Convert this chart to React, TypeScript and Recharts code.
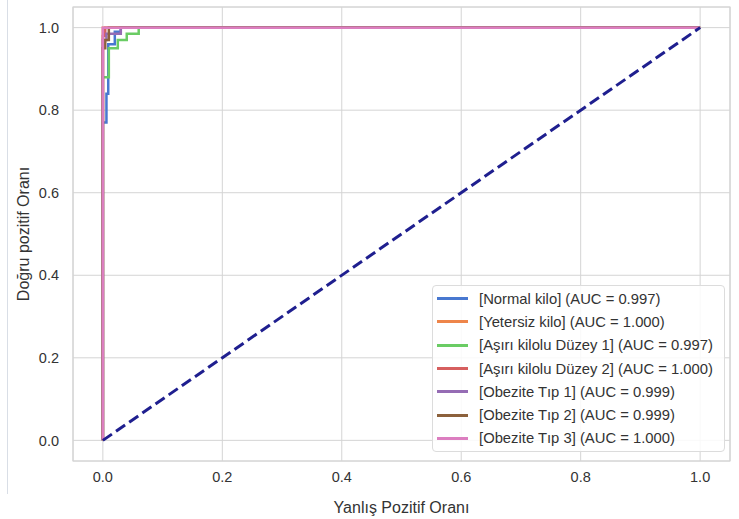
import React from "react";
import {
    LineChart,
    Line,
    XAxis,
    YAxis,
    CartesianGrid,
    ReferenceArea,
} from "recharts";

// Eksen işaretleri
const axisTicks = [0, 0.2, 0.4, 0.6, 0.8, 1.0];

// Sınıf adları, AUC değerleri ve renkler
const classNames = [
    "Normal kilo",
    "Yetersiz kilo",
    "Aşırı kilolu Düzey 1",
    "Aşırı kilolu Düzey 2",
    "Obezite Tıp 1",
    "Obezite Tıp 2",
    "Obezite Tıp 3",
];
const aucValues = [0.997, 1.0, 0.997, 1.0, 0.999, 0.999, 1.0];
const classColors = ["#4878d0", "#ee854a", "#6acc64", "#d65f5f", "#956cb4", "#8c613c", "#dc7ec0"];

// ROC eğrileri (FPR, TPR)
const fprNormal = [0, 0, 0.006, 0.006, 0.009, 0.009, 0.02, 0.02, 0.03, 0.03, 1];
const tprNormal = [0, 0.77, 0.77, 0.84, 0.84, 0.96, 0.96, 0.99, 0.99, 1, 1];
const fprYetersiz = [0, 0, 1];
const tprYetersiz = [0, 1, 1];
const fprDuzey1 = [0, 0, 0.01, 0.01, 0.025, 0.025, 0.04, 0.04, 0.06, 0.06, 1];
const tprDuzey1 = [0, 0.88, 0.88, 0.95, 0.95, 0.97, 0.97, 0.985, 0.985, 1, 1];
const fprDuzey2 = [0, 0, 0.004, 0.004, 1];
const tprDuzey2 = [0, 0.98, 0.98, 1, 1];
const fprTip1 = [0, 0, 0.006, 0.006, 0.03, 0.03, 1];
const tprTip1 = [0, 0.97, 0.97, 0.985, 0.985, 1, 1];
const fprTip2 = [0, 0, 0.004, 0.004, 0.01, 0.01, 1];
const tprTip2 = [0, 0.95, 0.95, 0.97, 0.97, 1, 1];
const fprTip3 = [0, 0, 1];
const tprTip3 = [0, 1, 1];

const fprAll = [fprNormal, fprYetersiz, fprDuzey1, fprDuzey2, fprTip1, fprTip2, fprTip3];
const tprAll = [tprNormal, tprYetersiz, tprDuzey1, tprDuzey2, tprTip1, tprTip2, tprTip3];

// Şans çizgisi
const chanceFpr = [0, 1];
const chanceTpr = [0, 1];

const font = "'Liberation Sans', Arial, sans-serif";
const textColor = "#333333";
const gridColor = "#d4d4d4";

export default function App() {
    const curves = classNames.map((name, i) => ({
        name,
        auc: aucValues[i],
        color: classColors[i],
        data: fprAll[i].map((fpr, j) => ({ fpr, tpr: tprAll[i][j] })),
    }));
    const chanceData = chanceFpr.map((fpr, j) => ({ fpr, tpr: chanceTpr[j] }));

    return (
        <div style={{ position: "absolute", left: 0, top: 0, width: 739, height: 519, background: "#fff", fontFamily: font }}>
            <div style={{ position: "absolute", left: 7, top: 0, width: 1, height: 494, background: "#d9dee6" }} />
            <LineChart
                width={739}
                height={519}
                margin={{ top: 7, right: 9, bottom: 0, left: 0 }}
            >
                <CartesianGrid stroke={gridColor} strokeWidth={1} />
                <XAxis
                    type="number"
                    dataKey="fpr"
                    domain={[-0.05, 1.05]}
                    ticks={axisTicks}
                    allowDataOverflow
                    tickFormatter={(v: number) => v.toFixed(1)}
                    axisLine={false}
                    tickLine={false}
                    tickMargin={5}
                    height={58}
                    tick={{ fontSize: 14.5, fill: textColor, fontFamily: font }}
                    label={{
                        value: "Yanlış Pozitif Oranı",
                        position: "insideBottom",
                        offset: 6,
                        style: { fontSize: 16, fill: textColor, fontFamily: font },
                    }}
                />
                <YAxis
                    type="number"
                    dataKey="tpr"
                    domain={[-0.05, 1.05]}
                    ticks={axisTicks}
                    allowDataOverflow
                    tickFormatter={(v: number) => v.toFixed(1)}
                    axisLine={false}
                    tickLine={false}
                    tickMargin={8}
                    width={73}
                    tick={{ fontSize: 14.5, fill: textColor, fontFamily: font }}
                    label={{
                        value: "Doğru pozitif Oranı",
                        angle: -90,
                        position: "insideLeft",
                        offset: 23,
                        style: { fontSize: 16, fill: textColor, fontFamily: font, textAnchor: "middle" },
                    }}
                />
                <ReferenceArea x1={-0.05} x2={1.05} y1={-0.05} y2={1.05} fill="none" stroke={gridColor} strokeWidth={1.2} />
                {curves.map((c) => (
                    <Line
                        key={c.name}
                        data={c.data}
                        dataKey="tpr"
                        type="linear"
                        stroke={c.color}
                        strokeWidth={2.5}
                        dot={false}
                        isAnimationActive={false}
                    />
                ))}
                <Line
                    data={chanceData}
                    dataKey="tpr"
                    type="linear"
                    stroke="#1f1f8f"
                    strokeWidth={3}
                    strokeDasharray="11 5"
                    dot={false}
                    isAnimationActive={false}
                />
            </LineChart>
            <div
                style={{
                    position: "absolute",
                    left: 432,
                    top: 285,
                    width: 293,
                    height: 167,
                    border: "1px solid #dcdcdc",
                    borderRadius: 4,
                    background: "rgba(255,255,255,0.85)",
                    boxSizing: "border-box",
                    paddingTop: 1,
                }}
            >
                {curves.map((c) => (
                    <div key={c.name} style={{ display: "flex", alignItems: "center", height: 23.3 }}>
                        <div style={{ marginLeft: 4, width: 31, height: 3, background: c.color }} />
                        <span style={{ marginLeft: 11, fontSize: 14.8, color: textColor, whiteSpace: "nowrap" }}>
                            [{c.name}] (AUC = {c.auc.toFixed(3)})
                        </span>
                    </div>
                ))}
            </div>
        </div>
    );
}
